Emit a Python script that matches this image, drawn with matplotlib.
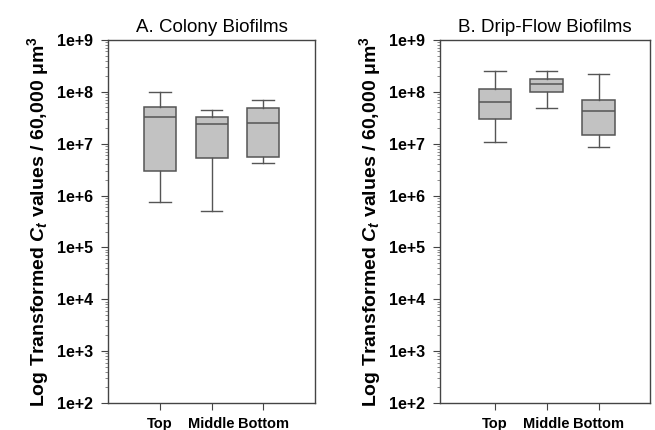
import matplotlib.pyplot as plt
import numpy as np

plt.rcParams['font.family'] = ['Liberation Sans', 'DejaVu Sans']
plt.rcParams['mathtext.fontset'] = 'custom'
plt.rcParams['mathtext.it'] = 'Liberation Sans:bold:italic'
plt.rcParams['mathtext.rm'] = 'Liberation Sans:bold'
plt.rcParams['mathtext.bf'] = 'Liberation Sans:bold'

groups = ["Top", "Middle", "Bottom"]

# colony biofilms: whislo, q1, median, q3, whishi
colony_lo = [7.5e5, 5.1e5, 4.2e6]
colony_q1 = [3.0e6, 5.3e6, 5.6e6]
colony_med = [3.2e7, 2.45e7, 2.5e7]
colony_q3 = [5.1e7, 3.3e7, 4.85e7]
colony_hi = [9.8e7, 4.4e7, 7.1e7]

# drip-flow biofilms
drip_lo = [1.1e7, 4.9e7, 8.5e6]
drip_q1 = [3.0e7, 9.9e7, 1.47e7]
drip_med = [6.3e7, 1.43e8, 4.3e7]
drip_q3 = [1.14e8, 1.8e8, 7.0e7]
drip_hi = [2.5e8, 2.57e8, 2.25e8]

ytick_vals = [1e2, 1e3, 1e4, 1e5, 1e6, 1e7, 1e8, 1e9]
ytick_labels = ["1e+2", "1e+3", "1e+4", "1e+5", "1e+6", "1e+7", "1e+8", "1e+9"]


def make_stats(lo, q1, med, q3, hi):
    return [dict(whislo=a, q1=b, med=c, q3=d, whishi=e, fliers=[], label=g)
            for a, b, c, d, e, g in zip(lo, q1, med, q3, hi, groups)]


fig = plt.figure(figsize=(6.55, 4.3), dpi=100)
ax1 = fig.add_axes([0.165, 0.063, 0.316, 0.844])
ax2 = fig.add_axes([0.672, 0.063, 0.321, 0.844])

edge = "#555555"
panels = [
    (ax1, make_stats(colony_lo, colony_q1, colony_med, colony_q3, colony_hi),
     "A. Colony Biofilms", (0, 4)),
    (ax2, make_stats(drip_lo, drip_q1, drip_med, drip_q3, drip_hi),
     "B. Drip-Flow Biofilms", (-0.05, 4)),
]

for ax, stats, title, xl in panels:
    ax.bxp(stats, positions=[1, 2, 3], widths=0.62, capwidths=0.42,
           patch_artist=True, showfliers=False,
           boxprops=dict(facecolor="#c2c2c2", edgecolor=edge, linewidth=1.1),
           medianprops=dict(color=edge, linewidth=1.1),
           whiskerprops=dict(color=edge, linewidth=1.0),
           capprops=dict(color=edge, linewidth=1.0))
    ax.set_yscale("log")
    ax.set_ylim(1e2, 1e9)
    ax.set_xlim(*xl)
    ax.set_yticks(ytick_vals)
    ax.set_yticklabels(ytick_labels, fontweight="bold", fontsize=11.5)
    ax.yaxis.set_minor_locator(plt.LogLocator(base=10, subs=np.arange(2, 10)))
    ax.set_xticks([1, 2, 3])
    ax.set_xticklabels(groups, fontweight="bold", fontsize=10.5)
    ax.tick_params(axis="x", direction="out", length=5, pad=5, color="#444444")
    ax.tick_params(axis="y", which="major", direction="out", length=5, pad=6, color="#444444")
    ax.tick_params(axis="y", which="minor", direction="out", length=2.5, color="#777777")
    for s in ax.spines.values():
        s.set_color("#444444")
        s.set_linewidth(1.0)
    ax.set_title(title, fontsize=13.5, pad=6)
    ax.set_ylabel("Log Transformed $C_t$ values / 60,000 \u03bcm$^{3}$",
                  fontweight="bold", fontsize=14, labelpad=4)

fig.savefig("out.png", dpi=100)
